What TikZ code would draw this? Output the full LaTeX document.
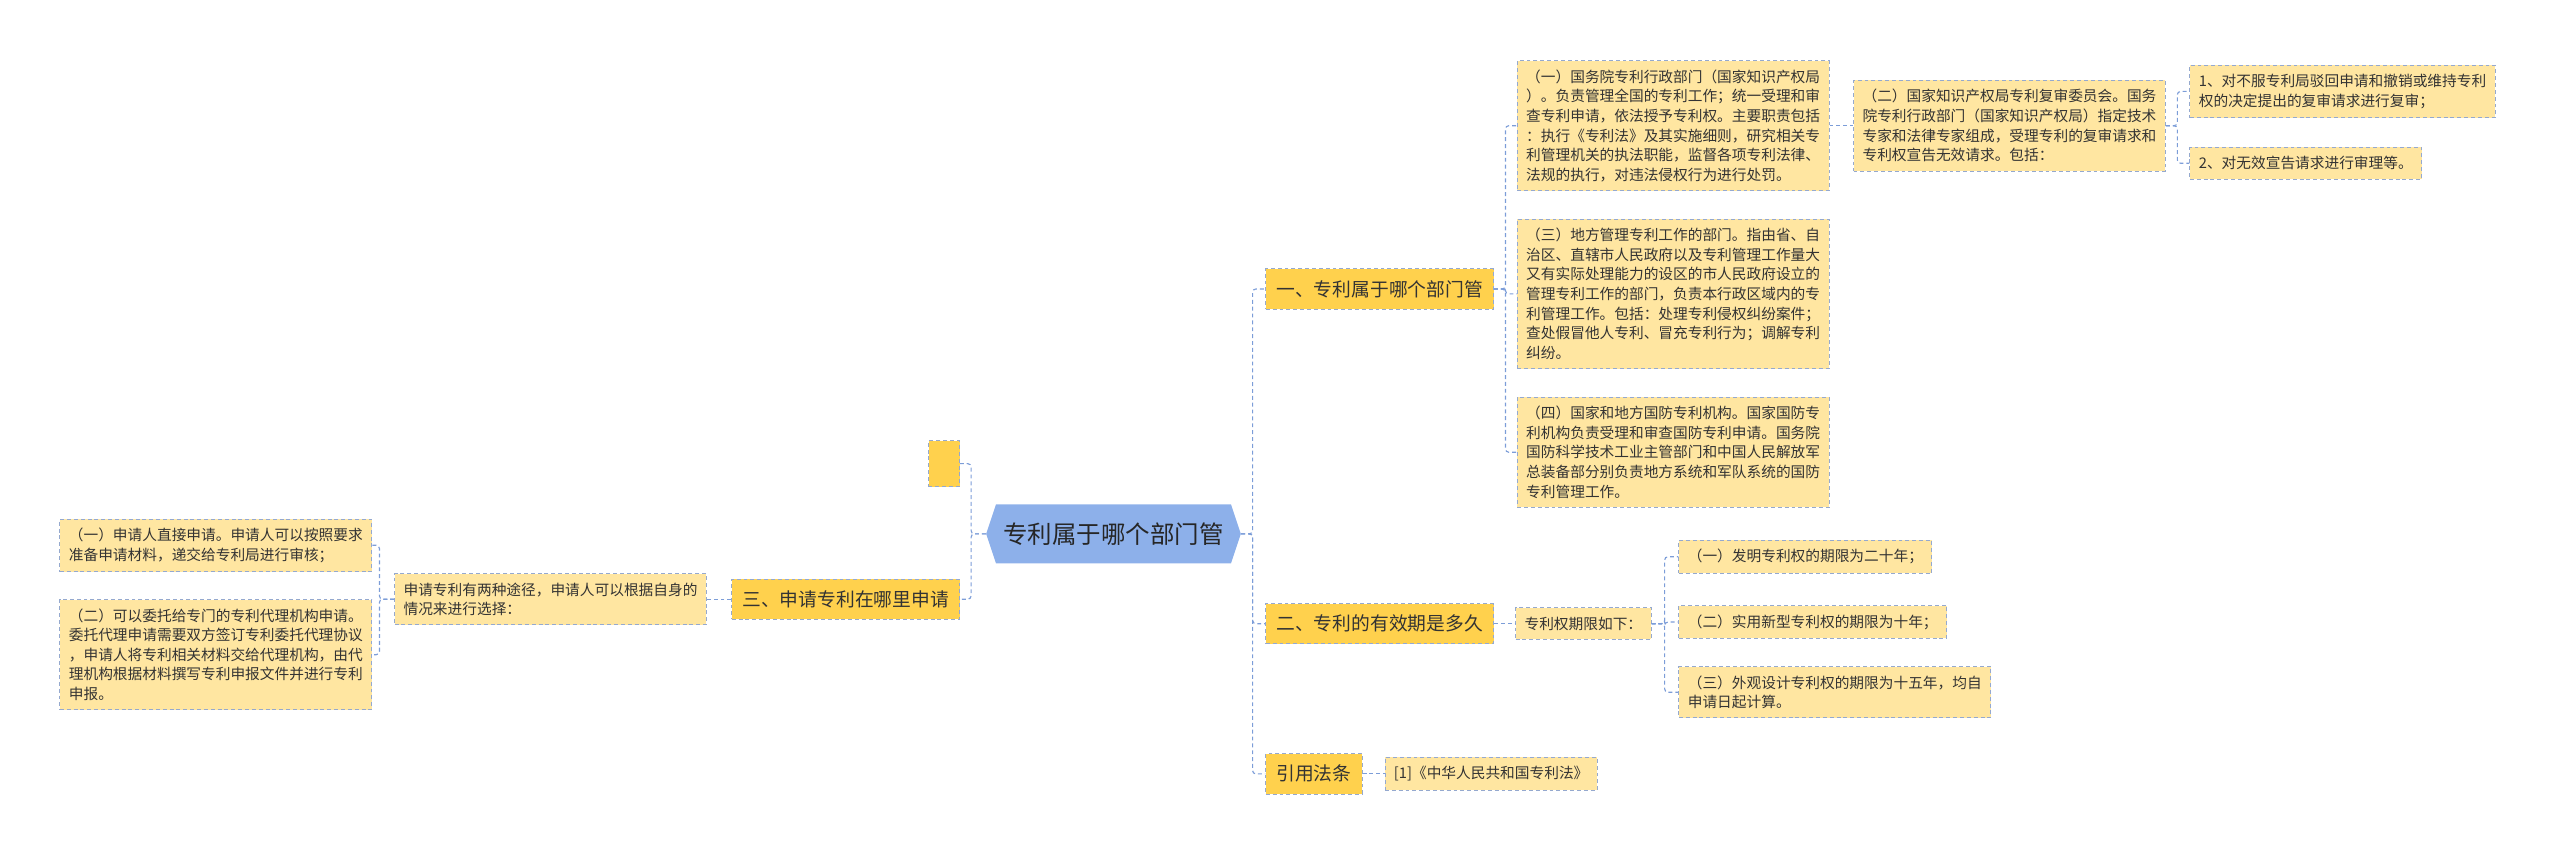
\documentclass[tikz,border=0pt]{standalone}
\usepackage{fontspec}
\setmainfont{Noto Sans CJK SC}
\definecolor{leafyellow}{HTML}{FFE6A1}
\definecolor{topicgold}{HTML}{FFD14D}
\definecolor{rootblue}{HTML}{8DB0EA}
\definecolor{linkblue}{HTML}{7C9DD8}
\definecolor{edgegray}{HTML}{95A9CF}
\definecolor{inkgray}{HTML}{333333}

\begin{document}
\begin{tikzpicture}[x=1pt,y=-1pt,
  leaf/.style={draw=edgegray,dash pattern=on 2.4pt off 1.8pt,fill=leafyellow,line width=0.6pt,align=left,text=inkgray,inner xsep=5.5pt,inner ysep=5.5pt,font=\fontsize{9}{12}\selectfont},
  topic/.style={draw=edgegray,dash pattern=on 2.4pt off 1.8pt,fill=topicgold,line width=0.6pt,text=inkgray,inner xsep=6.5pt,inner ysep=7pt,font=\fontsize{11.5}{14}\selectfont},
  rootnode/.style={minimum width=156pt,minimum height=36pt,inner sep=0pt,text=black!85,font=\fontsize{15}{18}\selectfont,
    path picture={\fill[rootblue] (path picture bounding box.west) -- ([xshift=6pt]path picture bounding box.north west)
      -- ([xshift=-6pt]path picture bounding box.north east) -- (path picture bounding box.east)
      -- ([xshift=-6pt]path picture bounding box.south east) -- ([xshift=6pt]path picture bounding box.south west) -- cycle;}},
  link/.style={draw=linkblue,dash pattern=on 2.4pt off 1.8pt,line width=0.7pt,rounded corners=2pt}]
  \useasboundingbox (0,0) rectangle (1568,527);
  \node[rootnode] (root) at (682,327) {专利属于哪个部门管};
  \node[topic,anchor=east,minimum width=19pt,minimum height=28pt] (blank) at (588,284) {};
  \node[topic,anchor=east] (apply) at (588,367) {三、申请专利在哪里申请};
  \node[leaf,anchor=east] (ways) at (433,367) {申请专利有两种途径，申请人可以根据自身的\\情况来进行选择：};
  \node[leaf,anchor=east] (self) at (228,334) {（一）申请人直接申请。申请人可以按照要求\\准备申请材料，递交给专利局进行审核；};
  \node[leaf,anchor=east] (agent) at (228,401) {（二）可以委托给专门的专利代理机构申请。\\委托代理申请需要双方签订专利委托代理协议\\，申请人将专利相关材料交给代理机构，由代\\理机构根据材料撰写专利申报文件并进行专利\\申报。};
  \node[topic,anchor=west] (dept) at (775,177) {一、专利属于哪个部门管};
  \node[topic,anchor=west] (term) at (775,382) {二、专利的有效期是多久};
  \node[topic,anchor=west] (law) at (775,474) {引用法条};
  \node[leaf,anchor=west] (state) at (929,77) {（一）国务院专利行政部门（国家知识产权局\\）。负责管理全国的专利工作；统一受理和审\\查专利申请，依法授予专利权。主要职责包括\\：执行《专利法》及其实施细则，研究相关专\\利管理机关的执法职能，监督各项专利法律、\\法规的执行，对违法侵权行为进行处罚。};
  \node[leaf,anchor=west] (local) at (929,180) {（三）地方管理专利工作的部门。指由省、自\\治区、直辖市人民政府以及专利管理工作量大\\又有实际处理能力的设区的市人民政府设立的\\管理专利工作的部门，负责本行政区域内的专\\利管理工作。包括：处理专利侵权纠纷案件；\\查处假冒他人专利、冒充专利行为；调解专利\\纠纷。};
  \node[leaf,anchor=west] (defense) at (929,277) {（四）国家和地方国防专利机构。国家国防专\\利机构负责受理和审查国防专利申请。国务院\\国防科学技术工业主管部门和中国人民解放军\\总装备部分别负责地方系统和军队系统的国防\\专利管理工作。};
  \node[leaf,anchor=west] (review) at (1135,77) {（二）国家知识产权局专利复审委员会。国务\\院专利行政部门（国家知识产权局）指定技术\\专家和法律专家组成，受理专利的复审请求和\\专利权宣告无效请求。包括：};
  \node[leaf,anchor=west] (reexam) at (1341,56) {1、对不服专利局驳回申请和撤销或维持专利\\权的决定提出的复审请求进行复审；};
  \node[leaf,anchor=west] (invalid) at (1341,100) {2、对无效宣告请求进行审理等。};
  \node[leaf,anchor=west] (limit) at (928,382) {专利权期限如下：};
  \node[leaf,anchor=west] (invent) at (1028,341) {（一）发明专利权的期限为二十年；};
  \node[leaf,anchor=west] (utility) at (1028,381) {（二）实用新型专利权的期限为十年；};
  \node[leaf,anchor=west] (design) at (1028,424) {（三）外观设计专利权的期限为十五年，均自\\申请日起计算。};
  \node[leaf,anchor=west] (patlaw) at (848,474) {[1]《中华人民共和国专利法》};
  \foreach \t in {dept,term,law} \draw[link] (root.east) -- ++(7,0) |- (\t.west);
  \foreach \t in {blank,apply} \draw[link] (root.west) -- ++(-9,0) |- (\t.east);
  \foreach \t in {state,local,defense} \draw[link] (dept.east) -- ++(7,0) |- (\t.west);
  \draw[link] (state) -- (review);
  \foreach \t in {reexam,invalid} \draw[link] (review.east) -- ++(7,0) |- (\t.west);
  \draw[link] (term) -- (limit);
  \foreach \t in {invent,utility,design} \draw[link] (limit.east) -- ++(8,0) |- (\t.west);
  \draw[link] (law) -- (patlaw);
  \draw[link] (apply) -- (ways);
  \foreach \t in {self,agent} \draw[link] (ways.west) -- ++(-9,0) |- (\t.east);
\end{tikzpicture}
\end{document}
